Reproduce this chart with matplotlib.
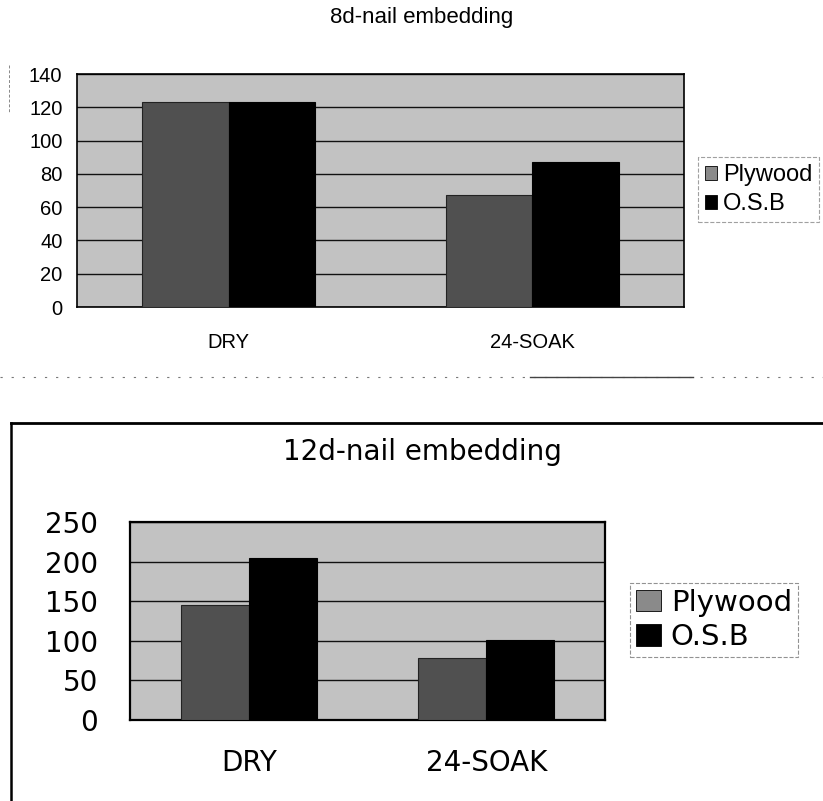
import matplotlib
matplotlib.use('Agg')
import matplotlib.pyplot as plt
from matplotlib.lines import Line2D
import numpy as np

categories = ['DRY', '24-SOAK']
series = ['Plywood', 'O.S.B']
nail8_plywood = [123, 67]
nail8_osb = [123, 87]
nail12_plywood = [145, 78]
nail12_osb = [205, 101]

W, H = 823, 801
fig = plt.figure(figsize=(W / 100, H / 100), dpi=100)
fig.patch.set_facecolor('white')

bg = '#c2c2c2'
ply_col = '#505050'
osb_col = '#000000'


def px_axes(left, top, right, bottom):
    return [left / W, 1 - bottom / H, (right - left) / W, (bottom - top) / H]


def draw_chart(ax, ply, osb, ymax, step, font, fs, ypad, xpad, spine_lw):
    x = np.arange(len(categories))
    w = 1 / 3.5
    ax.set_facecolor(bg)
    ax.bar(x - w / 2, ply, w, color=ply_col, edgecolor='#222222', linewidth=0.8, zorder=3, label=series[0])
    ax.bar(x + w / 2, osb, w, color=osb_col, edgecolor='black', linewidth=0.8, zorder=3, label=series[1])
    ax.set_xlim(-0.5, len(categories) - 0.5)
    ax.set_ylim(0, ymax)
    ax.set_yticks(np.arange(0, ymax + 1, step))
    ax.set_xticks(x)
    ax.set_xticklabels(categories, family=font, fontsize=fs)
    for t in ax.get_yticklabels():
        t.set_family(font)
        t.set_fontsize(fs)
    ax.tick_params(axis='y', length=0, pad=ypad)
    ax.tick_params(axis='x', length=0, pad=xpad)
    ax.yaxis.grid(True, color='#111111', linewidth=1.0, zorder=1)
    ax.set_axisbelow(True)
    for s in ax.spines.values():
        s.set_linewidth(spine_lw)
        s.set_color('black')


def style_legend(leg, edge):
    leg.get_frame().set_edgecolor(edge)
    leg.get_frame().set_linestyle('--')
    leg.get_frame().set_linewidth(0.8)
    for p in leg.get_patches():
        p.set_edgecolor('black')
        p.set_linewidth(0.6)
    leg.get_patches()[0].set_facecolor('#8a8a8a')


# top chart: 8d nail
ax1 = fig.add_axes(px_axes(77, 74, 684, 307))
draw_chart(ax1, nail8_plywood, nail8_osb, 140, 20, 'Liberation Sans', 14.5, 10.5, 19, 1.2)
fig.text(422 / W, 1 - 18 / H, '8d-nail embedding', ha='center', va='center',
         family='Liberation Sans', fontsize=16)
h, l = ax1.get_legend_handles_labels()
leg1 = fig.legend(h, l, loc='upper left', bbox_to_anchor=(698 / W, 1 - 157 / H),
                  prop={'family': 'Liberation Sans', 'size': 17}, handlelength=0.5,
                  handleheight=0.55, handletextpad=0.25, labelspacing=0.3,
                  borderaxespad=0, borderpad=0.3, fancybox=False)
style_legend(leg1, '#888888')

# bottom chart: 12d nail
ax2 = fig.add_axes(px_axes(130, 522, 605, 720))
draw_chart(ax2, nail12_plywood, nail12_osb, 250, 50, 'DejaVu Sans', 20, 23, 21, 1.6)
fig.text(422 / W, 1 - 452 / H, '12d-nail embedding', ha='center', va='center',
         family='DejaVu Sans', fontsize=20)
h2, l2 = ax2.get_legend_handles_labels()
leg2 = fig.legend(h2, l2, loc='upper left', bbox_to_anchor=(630 / W, 1 - 583 / H),
                  prop={'family': 'DejaVu Sans', 'size': 21}, handlelength=0.85,
                  handleheight=0.75, handletextpad=0.35, labelspacing=0.22,
                  borderaxespad=0, borderpad=0.2, fancybox=False)
style_legend(leg2, '#777777')

# scan remnants: dashed separator and frame of the lower chart
fig.add_artist(Line2D([0, 1], [1 - 377 / H, 1 - 377 / H], color='#777777', lw=0.8,
                      linestyle=(0, (2, 8))))
fig.add_artist(Line2D([530 / W, 693 / W], [1 - 377 / H, 1 - 377 / H], color='#444444', lw=1.0))
fig.add_artist(Line2D([9 / W, 9 / W], [1 - 65 / H, 1 - 112 / H], color='#888888', lw=0.7,
                      linestyle=(0, (3, 2))))
fig.add_artist(Line2D([11 / W, 1], [1 - 423 / H, 1 - 423 / H], color='black', lw=2.0))
fig.add_artist(Line2D([11 / W, 11 / W], [1 - 423 / H, 0], color='black', lw=1.8))

fig.savefig('out.png', dpi=100)
